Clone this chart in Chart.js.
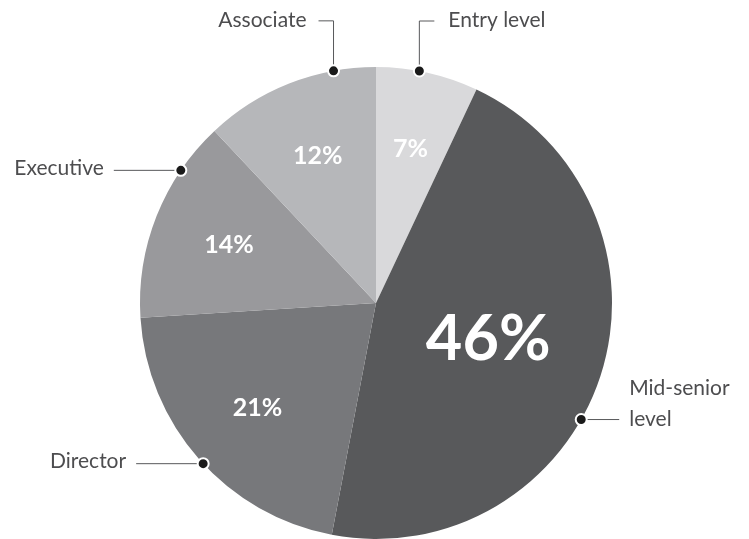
<!DOCTYPE html>
<html>
<head>
<meta charset="utf-8">
<script src="https://cdn.jsdelivr.net/npm/chart.js@4"></script>
<style>
  html, body { margin: 0; padding: 0; background: #fff; }
  #wrap { width: 749px; height: 539px; }
</style>
</head>
<body>
<div id="wrap"><canvas id="c" width="749" height="539"></canvas></div>
<script>
const labels = ["Entry level", "Mid-senior level", "Director", "Executive", "Associate"];
const shares = [7, 46, 21, 14, 12];
const sliceColors = ["#d9d9db", "#58595b", "#77787b", "#99999c", "#b6b7ba"];

// where on each slice's rim the callout dot sits (0 = start, 1 = end of slice)
const calloutAt = [0.42, 0.57, 0.48, 0.75, 0.76];
const calloutDir = ["up-right", "right", "left", "left", "up-left"];
const calloutText = [["Entry level"], ["Mid-senior", "level"], ["Director"], ["Executive"], ["Associate"]];

const fontFam = "Lato, 'Open Sans', sans-serif";

const sliceLabels = {
  id: "sliceLabels",
  afterDraw(chart) {
    const ctx = chart.ctx;
    const meta = chart.getDatasetMeta(0);
    ctx.save();
    meta.data.forEach((arc, i) => {
      const p = arc.getProps(["x", "y", "startAngle", "endAngle", "outerRadius"], true);
      const mid = (p.startAngle + p.endAngle) / 2;
      const big = shares[i] > 30;
      const r = p.outerRadius * (big ? 0.5 : 0.67);
      ctx.fillStyle = "#fff";
      ctx.font = (big ? "bold 63px " : "bold 25px ") + fontFam;
      ctx.textAlign = "center";
      ctx.textBaseline = "middle";
      ctx.fillText(shares[i] + "%", p.x + Math.cos(mid) * r, p.y + Math.sin(mid) * r);

      // callouts
      const a = p.startAngle + calloutAt[i] * (p.endAngle - p.startAngle);
      const dx = p.x + Math.cos(a) * p.outerRadius;
      const dy = p.y + Math.sin(a) * p.outerRadius;
      ctx.strokeStyle = "#58595b";
      ctx.lineWidth = 1;
      ctx.beginPath();
      let tx, ty, align;
      const dir = calloutDir[i];
      if (dir === "up-left" || dir === "up-right") {
        const ey = dy - 50;
        const ex = dir === "up-left" ? dx - 15 : dx + 15;
        ctx.moveTo(dx, dy); ctx.lineTo(dx, ey); ctx.lineTo(ex, ey);
        tx = dir === "up-left" ? ex - 12 : ex + 14;
        ty = ey - 1;
        align = dir === "up-left" ? "right" : "left";
      } else if (dir === "left") {
        const ex = dx - 67;
        ctx.moveTo(dx, dy); ctx.lineTo(ex, dy);
        tx = ex - 10; ty = dy - 2; align = "right";
      } else {
        const ex = dx + 38;
        ctx.moveTo(dx, dy); ctx.lineTo(ex, dy);
        tx = ex + 10; ty = dy; align = "left";
      }
      ctx.stroke();

      ctx.beginPath();
      ctx.arc(dx, dy, 5.5, 0, Math.PI * 2);
      ctx.fillStyle = "#1a1a1a";
      ctx.strokeStyle = "#fff";
      ctx.lineWidth = 2;
      ctx.fill();
      ctx.stroke();

      ctx.fillStyle = "#4d4d4f";
      ctx.font = "21px " + fontFam;
      ctx.textAlign = align;
      ctx.textBaseline = "middle";
      const lines = calloutText[i];
      lines.forEach((t, k) => {
        ctx.fillText(t, tx, ty - (lines.length - 1 - k) * 31);
      });
    });
    ctx.restore();
  }
};

new Chart(document.getElementById("c"), {
  type: "pie",
  data: {
    labels: labels,
    datasets: [{
      data: shares,
      backgroundColor: sliceColors,
      borderWidth: 0
    }]
  },
  options: {
    responsive: false,
    animation: false,
    layout: { padding: { top: 67, bottom: 0, left: 140, right: 137 } },
    plugins: {
      legend: { display: false },
      tooltip: { enabled: false }
    }
  },
  plugins: [sliceLabels]
});
</script>
</body>
</html>
